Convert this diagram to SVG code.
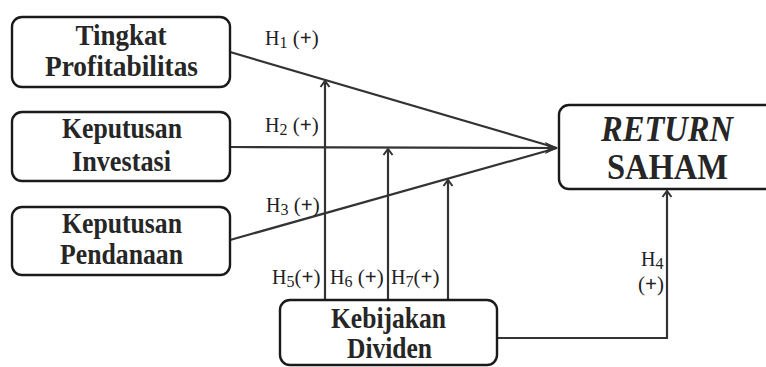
<svg xmlns="http://www.w3.org/2000/svg" width="766" height="367" viewBox="0 0 766 367">
<style>
.box{fill:#fff;stroke:#1a1a1a;stroke-width:2.4}
.nt{font-family:"Liberation Serif","Times New Roman",serif;font-weight:bold;font-size:30px;fill:#262626;text-anchor:middle}
.big{font-size:36px}
.lb{font-family:"Liberation Serif","Times New Roman",serif;font-size:20px;fill:#222}
.sub{font-size:16px}
.pl{font-size:21px}
.b{font-weight:bold}
.ln{fill:none;stroke:#333;stroke-width:2.2}
</style>
<defs>
<marker id="open" viewBox="-8 -6 10 12" markerWidth="10" markerHeight="12" refX="0" refY="0" orient="auto" markerUnits="userSpaceOnUse">
<path d="M-6,-4.5 L0,0 L-6,4.5" fill="none" stroke="#333" stroke-width="2"/>
</marker>
<marker id="fill" viewBox="-12 -6 13 12" markerWidth="13" markerHeight="12" refX="0" refY="0" orient="auto" markerUnits="userSpaceOnUse">
<path d="M-11,-5 L0,0 L-11,5 L-8,0 Z" fill="#333" stroke="#333" stroke-width="1"/>
</marker>
</defs>
<g id="connectors">
<path class="ln" d="M230,52 L557,148"/>
<path class="ln" d="M230,147 L557,148" marker-end="url(#fill)"/>
<path class="ln" d="M230,240 L557,148"/>
<path class="ln" d="M325,300 L325,81" marker-end="url(#open)"/>
<path class="ln" d="M388,300 L388,149" marker-end="url(#open)"/>
<path class="ln" d="M448,300 L448,180" marker-end="url(#open)"/>
<path class="ln" d="M497,338 L667,338 L667,191" marker-end="url(#open)"/>
</g>
<g id="labels">
<text class="lb" x="265" y="45">H<tspan class="sub" dy="3">1</tspan><tspan class="pl" dy="-3"> (<tspan class="b">+</tspan>)</tspan></text>
<text class="lb" x="265" y="132">H<tspan class="sub" dy="3">2</tspan><tspan class="pl" dy="-3"> (<tspan class="b">+</tspan>)</tspan></text>
<text class="lb" x="266" y="212">H<tspan class="sub" dy="3">3</tspan><tspan class="pl" dy="-3"> (<tspan class="b">+</tspan>)</tspan></text>
<text class="lb" x="272" y="284">H<tspan class="sub" dy="3">5</tspan><tspan class="pl" dy="-3">(<tspan class="b">+</tspan>)</tspan></text>
<text class="lb" x="330" y="284">H<tspan class="sub" dy="3">6</tspan><tspan class="pl" dy="-3"> (<tspan class="b">+</tspan>)</tspan></text>
<text class="lb" x="391" y="284">H<tspan class="sub" dy="3">7</tspan><tspan class="pl" dy="-3">(<tspan class="b">+</tspan>)</tspan></text>
<text class="lb" x="641" y="266">H<tspan class="sub" dy="3">4</tspan></text>
<text class="lb pl" x="638" y="291">(<tspan class="b">+</tspan>)</text>
</g>
<g id="tingkat-profitabilitas">
<rect class="box" x="12" y="17" width="218" height="70" rx="10"/>
<text class="nt" x="121" y="45" textLength="91" lengthAdjust="spacingAndGlyphs">Tingkat</text>
<text class="nt" x="121.5" y="76" textLength="153" lengthAdjust="spacingAndGlyphs">Profitabilitas</text>
</g>
<g id="keputusan-investasi">
<rect class="box" x="12" y="112" width="218" height="69" rx="10"/>
<text class="nt" x="122" y="138" textLength="120" lengthAdjust="spacingAndGlyphs">Keputusan</text>
<text class="nt" x="121.5" y="171" textLength="99" lengthAdjust="spacingAndGlyphs">Investasi</text>
</g>
<g id="keputusan-pendanaan">
<rect class="box" x="12" y="207" width="218" height="68" rx="10"/>
<text class="nt" x="122" y="233" textLength="120" lengthAdjust="spacingAndGlyphs">Keputusan</text>
<text class="nt" x="121.5" y="264" textLength="123" lengthAdjust="spacingAndGlyphs">Pendanaan</text>
</g>
<g id="return-saham">
<rect class="box" x="559" y="105" width="222" height="84" rx="10"/>
<text class="nt big" x="667" y="141" font-style="italic" textLength="132" lengthAdjust="spacingAndGlyphs">RETURN</text>
<text class="nt big" x="667.5" y="179" textLength="121" lengthAdjust="spacingAndGlyphs">SAHAM</text>
</g>
<g id="kebijakan-dividen">
<rect class="box" x="280" y="300" width="217" height="65" rx="10"/>
<text class="nt" x="388.5" y="328" textLength="115" lengthAdjust="spacingAndGlyphs">Kebijakan</text>
<text class="nt" x="389.5" y="358" textLength="85" lengthAdjust="spacingAndGlyphs">Dividen</text>
</g>
</svg>
